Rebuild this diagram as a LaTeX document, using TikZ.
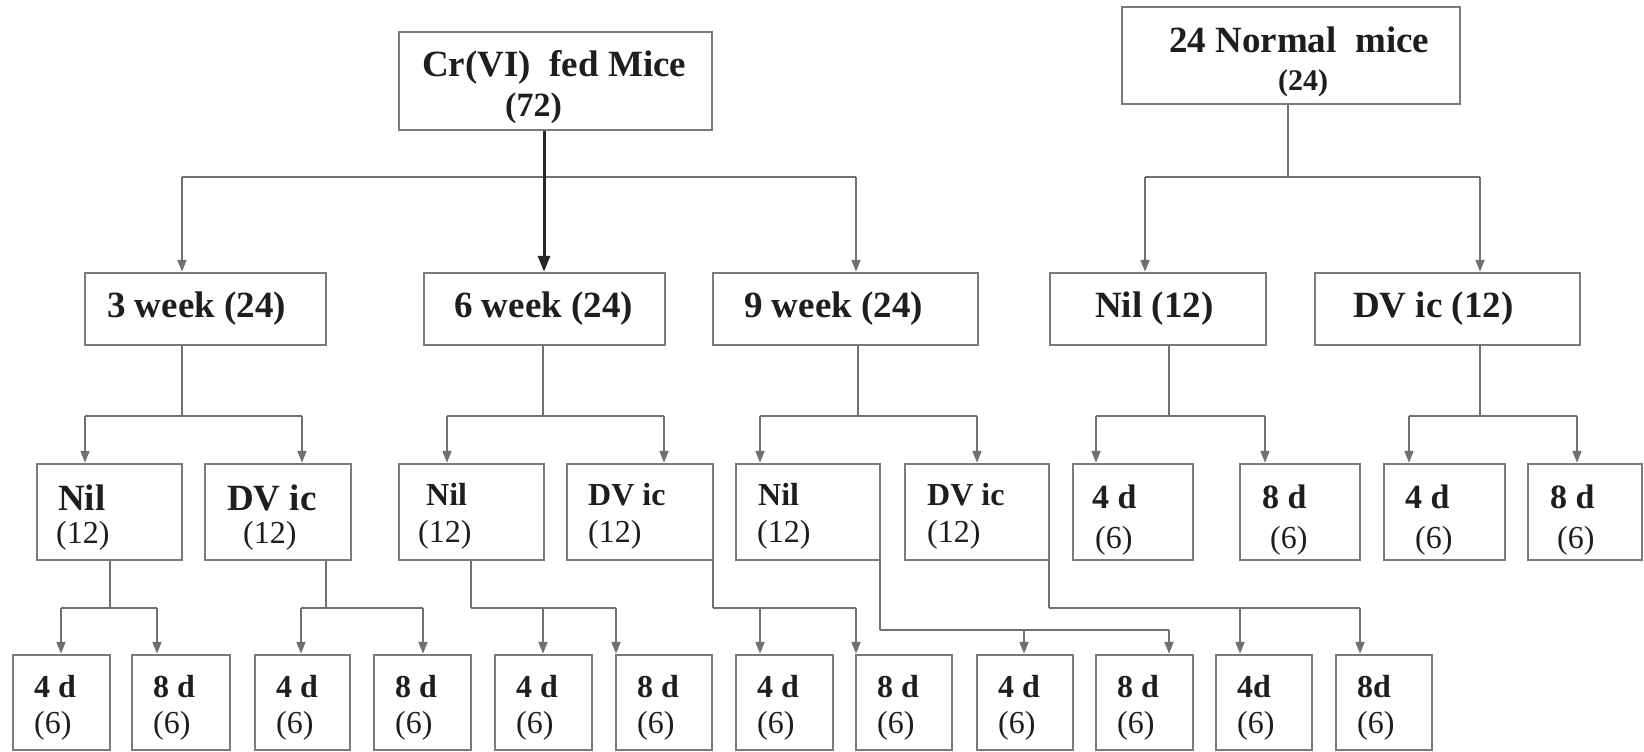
\documentclass[tikz,border=0pt]{standalone}
\usepackage{fontspec}
\setmainfont{Liberation Serif}
\usetikzlibrary{arrows.meta}
\definecolor{ln}{HTML}{707070}
\definecolor{bd}{HTML}{7A7A7A}
\definecolor{tx}{HTML}{1E1E1E}
\newcommand\mkbox[5]{%
  \pgfmathsetmacro\bw{#4-#2}\pgfmathsetmacro\bh{#5-#3}%
  \node[boxst, minimum width=\bw pt, minimum height=\bh pt] (#1) at ({(#2+#4)/2},{(#3+#5)/2}) {};}
\begin{document}
\begin{tikzpicture}[x=1pt,y=-1pt,
  boxst/.style={draw=bd, line width=2.5pt, inner sep=0pt, rectangle},
  lnst/.style={draw=ln, line width=2pt},
  arr/.style={draw=ln, line width=2pt, -{Triangle[width=9pt,length=12pt]}},
  thickarr/.style={draw=black!85, line width=3pt, -{Triangle[width=12pt,length=16pt]}},
  txt/.style={inner sep=0pt, anchor=base west, text=tx},
  tA/.style={txt, font=\fontsize{37}{40}\selectfont\bfseries},
  tB/.style={txt, font=\fontsize{34}{36}\selectfont\bfseries},
  tC/.style={txt, font=\fontsize{32}{34}\selectfont\bfseries},
  tR/.style={txt, font=\fontsize{32}{34}\selectfont},
  tS/.style={txt, font=\fontsize{30}{32}\selectfont\bfseries}]
\fill[white] (0,0) rectangle (1644,752);
\useasboundingbox (0,0) rectangle (1644,752);

% ---- top boxes
\mkbox{cr}{399}{32}{712}{130}
\mkbox{nm}{1122}{7}{1460}{104}
\node[tA] (tcr1) at (422,77) {Cr(VI)\ \ fed Mice};
\node[tB] (tcr2) at (505,117) {(72)};
\node[tA] (tnm1) at (1169,53) {24 Normal\ \ mice};
\node[tS] (tnm2) at (1278,90) {(24)};

% ---- second row
\mkbox{w3}{85}{273}{326}{345}
\mkbox{w6}{424}{273}{665}{345}
\mkbox{w9}{713}{273}{978}{345}
\mkbox{nnil}{1050}{273}{1266}{345}
\mkbox{ndv}{1315}{273}{1580}{345}
\node[tA] (tw3) at (107,317) {3 week (24)};
\node[tA] (tw6) at (454,317) {6 week (24)};
\node[tA] (tw9) at (744,317) {9 week (24)};
\node[tA] (tnnil) at (1095,317) {Nil (12)};
\node[tA] (tndv) at (1353,317) {DV ic (12)};

% ---- third row
\mkbox{ra}{37}{464}{182}{560}
\mkbox{rb}{205}{464}{351}{560}
\mkbox{rc}{399}{464}{544}{560}
\mkbox{rd}{567}{464}{713}{560}
\mkbox{re}{736}{464}{880}{560}
\mkbox{rf}{905}{464}{1049}{560}
\mkbox{rg}{1073}{464}{1193}{560}
\mkbox{rh}{1240}{464}{1360}{560}
\mkbox{ri}{1384}{464}{1505}{560}
\mkbox{rj}{1528}{464}{1642}{560}
\node[tA] (tra1) at (58,510) {Nil};
\node[tR] (tra2) at (56,543) {(12)};
\node[tA] (trb1) at (227,510) {DV ic};
\node[tR] (trb2) at (243,543) {(12)};
\node[tC] (trc1) at (426,505) {Nil};
\node[tR] (trc2) at (418,542) {(12)};
\node[tC] (trd1) at (588,505) {DV ic};
\node[tR] (trd2) at (588,542) {(12)};
\node[tC] (tre1) at (758,505) {Nil};
\node[tR] (tre2) at (757,542) {(12)};
\node[tC] (trf1) at (927,505) {DV ic};
\node[tR] (trf2) at (927,542) {(12)};
\node[tB] (trg1) at (1092,508) {4 d};
\node[tR] (trg2) at (1095,548) {(6)};
\node[tB] (trh1) at (1262,508) {8 d};
\node[tR] (trh2) at (1270,548) {(6)};
\node[tB] (tri1) at (1405,508) {4 d};
\node[tR] (tri2) at (1415,548) {(6)};
\node[tB] (trj1) at (1550,508) {8 d};
\node[tR] (trj2) at (1557,548) {(6)};

% ---- bottom row
\foreach \i/\xa/\xb/\lab in {1/13/110/4 d,2/132/230/8 d,3/255/350/4 d,4/374/471/8 d,
  5/495/592/4 d,6/616/712/8 d,7/736/833/4 d,8/856/952/8 d,9/977/1073/4 d,
  10/1096/1193/8 d,11/1216/1312/4d,12/1336/1432/8d}{
  \mkbox{b\i}{\xa}{655}{\xb}{750}
  \node[tC] (tb\i a) at (\xa+21,697) {\lab};
  \node[tR] (tb\i b) at (\xa+21,733) {(6)};
}

% ---- connectors: Cr(VI)
\coordinate (jcr) at (544,177);
\coordinate (acr1) at (182,177);
\coordinate (acr3) at (856,177);
\draw[lnst] (acr1) -- (acr3);
\draw[arr] (acr1) -- (w3.north -| acr1);
\draw[arr] (acr3) -- (w9.north -| acr3);
\draw[thickarr] (cr.south -| jcr) -- (w6.north -| jcr);

% normal mice
\coordinate (jnm) at (1288,177);
\coordinate (anm1) at (1145,177);
\coordinate (anm2) at (1480,177);
\draw[lnst] (nm.south -| jnm) -- (jnm);
\draw[lnst] (anm1) -- (anm2);
\draw[arr] (anm1) -- (nnil.north -| anm1);
\draw[arr] (anm2) -- (ndv.north -| anm2);

% second row splits: parent / junction x / child1 x / child2 x
\foreach \p/\jx/\ax/\bx/\ca/\cb in {w3/182/85/302/ra/rb, w6/543/447/664/rc/rd,
  w9/858/760/977/re/rf, nnil/1169/1096/1265/rg/rh, ndv/1480/1409/1577/ri/rj}{
  \coordinate (j\p) at (\jx,416);
  \coordinate (a\p) at (\ax,416);
  \coordinate (b\p) at (\bx,416);
  \draw[lnst] (\p.south -| j\p) -- (j\p);
  \draw[lnst] (a\p) -- (b\p);
  \draw[arr] (a\p) -- (\ca.north -| a\p);
  \draw[arr] (b\p) -- (\cb.north -| b\p);
}

% third row splits
\foreach \p/\jx/\y/\lx/\rx/\ax/\bx/\ca/\cb in {
  ra/110/608/61/157/61/157/b1/b2,
  rb/326/608/301/423/301/423/b3/b4,
  rc/471/608/471/616/543/616/b5/b6,
  rd/713/608/713/856/760/856/b7/b8,
  re/880/630/880/1169/1024/1169/b9/b10,
  rf/1049/608/1049/1360/1240/1360/b11/b12}{
  \coordinate (j\p) at (\jx,\y);
  \coordinate (l\p) at (\lx,\y);
  \coordinate (r\p) at (\rx,\y);
  \coordinate (a\p) at (\ax,\y);
  \coordinate (b\p) at (\bx,\y);
  \draw[lnst] (\p.south -| j\p) -- (j\p);
  \draw[lnst] (l\p) -- (r\p);
  \draw[arr] (a\p) -- (\ca.north -| a\p);
  \draw[arr] (b\p) -- (\cb.north -| b\p);
}
\end{tikzpicture}
\end{document}
